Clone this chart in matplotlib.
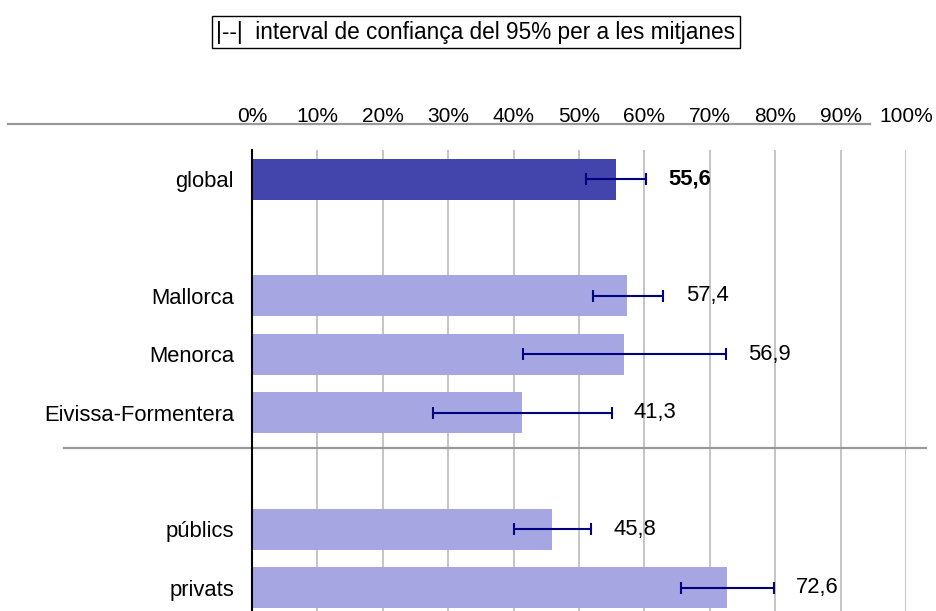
import matplotlib
matplotlib.use('Agg')
import matplotlib.pyplot as plt
from matplotlib.transforms import blended_transform_factory

plt.rcParams['font.family'] = ['Liberation Sans', 'DejaVu Sans']

# data
categories = ['global', 'Mallorca', 'Menorca', 'Eivissa-Formentera', 'públics', 'privats']
rows = [0, 2, 3, 4, 6, 7]
means = [55.6, 57.4, 56.9, 41.3, 45.8, 72.6]
ci_low = [51.1, 52.2, 41.5, 27.7, 40.0, 65.6]
ci_high = [60.2, 62.9, 72.5, 55.0, 51.8, 79.8]
ticks = list(range(0, 101, 10))
tick_labels = ['%d%%' % t for t in ticks]
legend_text = '|--|  interval de confiança del 95% per a les mitjanes'

fig = plt.figure(figsize=(9.36, 6.11), dpi=100)
ax = fig.add_axes([252/936, 0, 654/936, 1 - 150/611])

colors = ['#4444ad'] + ['#a6a6e3'] * (len(means) - 1)
ax.barh(rows, means, height=0.70, color=colors, zorder=2)

# error bars
err_lo = [m - l for m, l in zip(means, ci_low)]
err_hi = [h - m for m, h in zip(means, ci_high)]
ax.errorbar(means, rows, xerr=[err_lo, err_hi], fmt='none', ecolor='#000080',
            elinewidth=1.5, capsize=4.3, capthick=1.5, zorder=3)

# value labels
for i, (r, m, h) in enumerate(zip(rows, means, ci_high)):
    ax.text(h + 3.4, r, ('%.1f' % m).replace('.', ','), va='center', ha='left',
            fontsize=15.8, fontweight='bold' if i == 0 else 'normal')

ax.set_xlim(0, 100)
ax.set_ylim(7.4, -0.5)
ax.set_yticks(rows)
ax.set_yticklabels(categories, fontsize=15.8)
ax.tick_params(axis='y', length=0, pad=13)
ax.xaxis.tick_top()
ax.set_xticks(ticks)
ax.set_xticklabels(tick_labels, fontsize=15)
ax.tick_params(axis='x', length=0, pad=17)
ax.grid(axis='x', color='#c0c0c0', linewidth=1.3, zorder=0)
ax.set_axisbelow(True)
for s in ['top', 'right', 'bottom']:
    ax.spines[s].set_visible(False)
ax.spines['left'].set_linewidth(1.5)
ax.spines['left'].set_zorder(4)

# horizontal rule lines
tr = blended_transform_factory(fig.transFigure, ax.transData)
ax.plot([8/936, 870/936], [-0.95, -0.95], color='#999999', lw=1.6,
        transform=tr, clip_on=False)
ax.plot([64/936, 926/936], [4.6, 4.6], color='#999999', lw=1.6,
        transform=tr, clip_on=False, zorder=1)

fig.text(476/936, 1 - 32/611, legend_text, ha='center', va='center', fontsize=16.3,
         bbox=dict(boxstyle='square,pad=0.22', facecolor='white', edgecolor='black', lw=1))

fig.savefig('out.png', dpi=100)
